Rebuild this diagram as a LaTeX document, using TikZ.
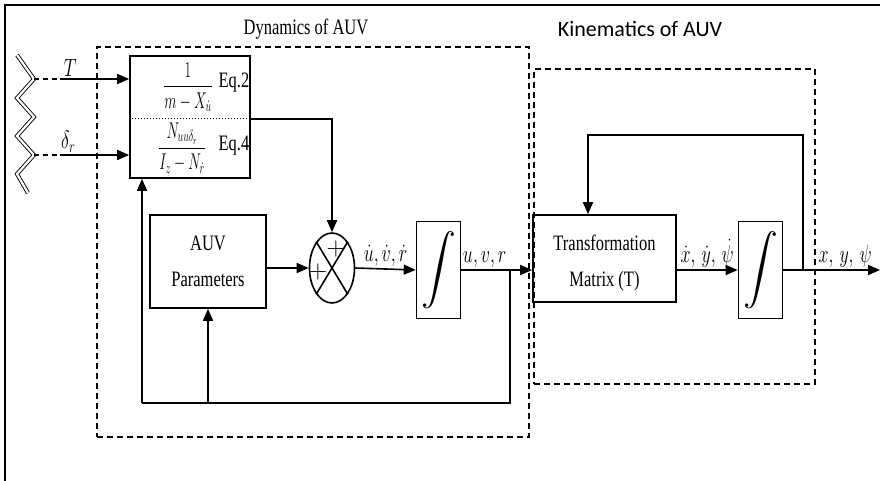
\RequirePackage{fix-cm}
\documentclass[tikz,border=0pt]{standalone}
\usepackage{amsmath}
\usepackage{graphicx}
\usepackage{fontspec}
\setmainfont{Liberation Serif}[FakeStretch=0.75]
\newfontfamily\kinfont{Carlito}
\usetikzlibrary{shapes.geometric, arrows.meta, positioning, calc}
\newcommand{\cnd}[1]{\scalebox{0.9}[1.25]{#1}}
\tikzset{
    block/.style={rectangle, draw, line width=1.6pt, align=center, inner sep=0pt, font=\fontsize{22}{36}\selectfont},
    intbox/.style={rectangle, draw, line width=1.6pt, minimum width=44pt, minimum height=97pt, inner sep=0pt, font=\fontsize{24}{24}\selectfont},
    region/.style={draw, dash pattern=on 6pt off 4pt, line width=1.5pt, inner sep=0pt},
    arrow/.style={-{Triangle[length=12pt, width=10pt]}, line width=1.6pt},
    line/.style={line width=1.6pt},
    sig/.style={font=\fontsize{20}{20}\selectfont, inner sep=2pt},
    frac/.style={font=\fontsize{19}{19}\selectfont, inner sep=0pt},
}

\begin{document}
\begin{tikzpicture}[x=1pt, y=-1pt]
    \useasboundingbox (0,0) rectangle (880,481);
    \draw[line width=2pt] (5,481) -- (5,5) -- (880,5);
    \node[region, minimum width=432pt, minimum height=390pt] (dyn) at (313,242) {};
    \node[region, minimum width=281pt, minimum height=315pt] (kin) at (674.5,226.5) {};
    \node[font=\fontsize{22}{22}\selectfont] (dyntitle) at (306,29) {Dynamics of AUV};
    \node[font=\kinfont\fontsize{22}{22}\selectfont] (kintitle) at (640,29) {Kinematics of AUV};
    \draw[double, double distance=2.2pt, line width=0.9pt] (17,55) -- (34,79) -- (17,98) -- (34,117) -- (17,136) -- (34,155) -- (17,174) -- (28,193);
    \node[block, minimum width=120pt, minimum height=122pt] (eq) at (190,117) {};
    \coordinate (sep) at (190,119);
    \draw[dotted, line width=1pt] (eq.west |- sep) -- (eq.east |- sep);
    \node[frac] (frac1) at (188,87) {\scalebox{0.75}[1.2]{$\dfrac{1}{m-X_{\dot u}}$}};
    \node[font=\fontsize{22}{22}\selectfont] (eq2) at (234,83) {Eq.2};
    \node[frac] (frac2) at (182,148) {\scalebox{0.75}[1.2]{$\dfrac{N_{uu\delta_r}}{I_z-N_{\dot r}}$}};
    \node[font=\fontsize{22}{22}\selectfont] (eq4) at (234,146) {Eq.4};
    \node[block, minimum width=116pt, minimum height=93pt] (params) at (208,261.5) {AUV\\Parameters};
    \node[draw, ellipse, line width=1.6pt, minimum width=45pt, minimum height=70pt, inner sep=0pt] (sum) at (332,268) {};
    \draw[line] (sum.121) -- (sum.-59);
    \draw[line] (sum.59) -- (sum.-121);
    \node[font=\fontsize{20}{20}\selectfont, inner sep=0pt] (plusup) at (336,249) {\scalebox{1.3}{$+$}};
    \node[font=\fontsize{20}{20}\selectfont, inner sep=0pt] (plusleft) at (318,272) {\scalebox{1.3}{$+$}};
    \node[intbox] (int1) at (438.5,270) {\scalebox{1.4}{$\displaystyle\int$}};
    \node[block, minimum width=143pt, minimum height=87pt] (trans) at (604.5,258.5) {};
    \node[font=\fontsize{22}{36}\selectfont, align=center] (transtext) at (604.5,263) {Transformation\\Matrix (T)};
    \node[intbox] (int2) at (760.5,270) {\scalebox{1.4}{$\displaystyle\int$}};
    \coordinate (zT) at (34,79);
    \coordinate (zD) at (34,155);
    \coordinate (br1) at (510,270);
    \coordinate (fbl) at (142,403);
    \coordinate (br2) at (803,270);
    \coordinate (fbt) at (588,135);
    \coordinate (out) at (880,270);
    \draw[line, dash pattern=on 5pt off 4pt] (zT) -- ++(26,0) coordinate (inT);
    \draw[line, dash pattern=on 5pt off 4pt] (zD) -- ++(26,0) coordinate (inD);
    \draw[arrow] (inT) -- node[above, sig, pos=0.15]{\cnd{$T$}} (eq.west |- inT);
    \draw[arrow] (inD) -- node[above, sig, pos=0.12]{\cnd{$\delta_r$}} (eq.west |- inD);
    \draw[arrow] (eq.east |- sep) -| (sum.north);
    \draw[arrow] (params.east |- sum) -- (sum.west);
    \draw[arrow] (sum.east) -- node[above, sig]{\cnd{$\dot u,\dot v,\dot r$}} (int1.west);
    \draw[arrow] (int1.east) -- node[above, sig, pos=0.33]{\cnd{$u,v,r$}} (trans.west |- int1);
    \draw[line] (br1) |- (fbl);
    \draw[arrow] (fbl) -- (fbl |- eq.south);
    \draw[arrow] (params.south |- fbl) -- (params.south);
    \draw[arrow] (trans.east |- int2) -- node[above, sig]{\cnd{$\dot x,\,\dot y,\,\dot\psi$}} (int2.west);
    \draw[arrow] (int2.east) -- node[above, sig, pos=0.64]{\cnd{$x,\,y,\,\psi$}} (out);
    \draw[arrow] (br2) |- (fbt) -- (fbt |- trans.north);
\end{tikzpicture}
\end{document}
